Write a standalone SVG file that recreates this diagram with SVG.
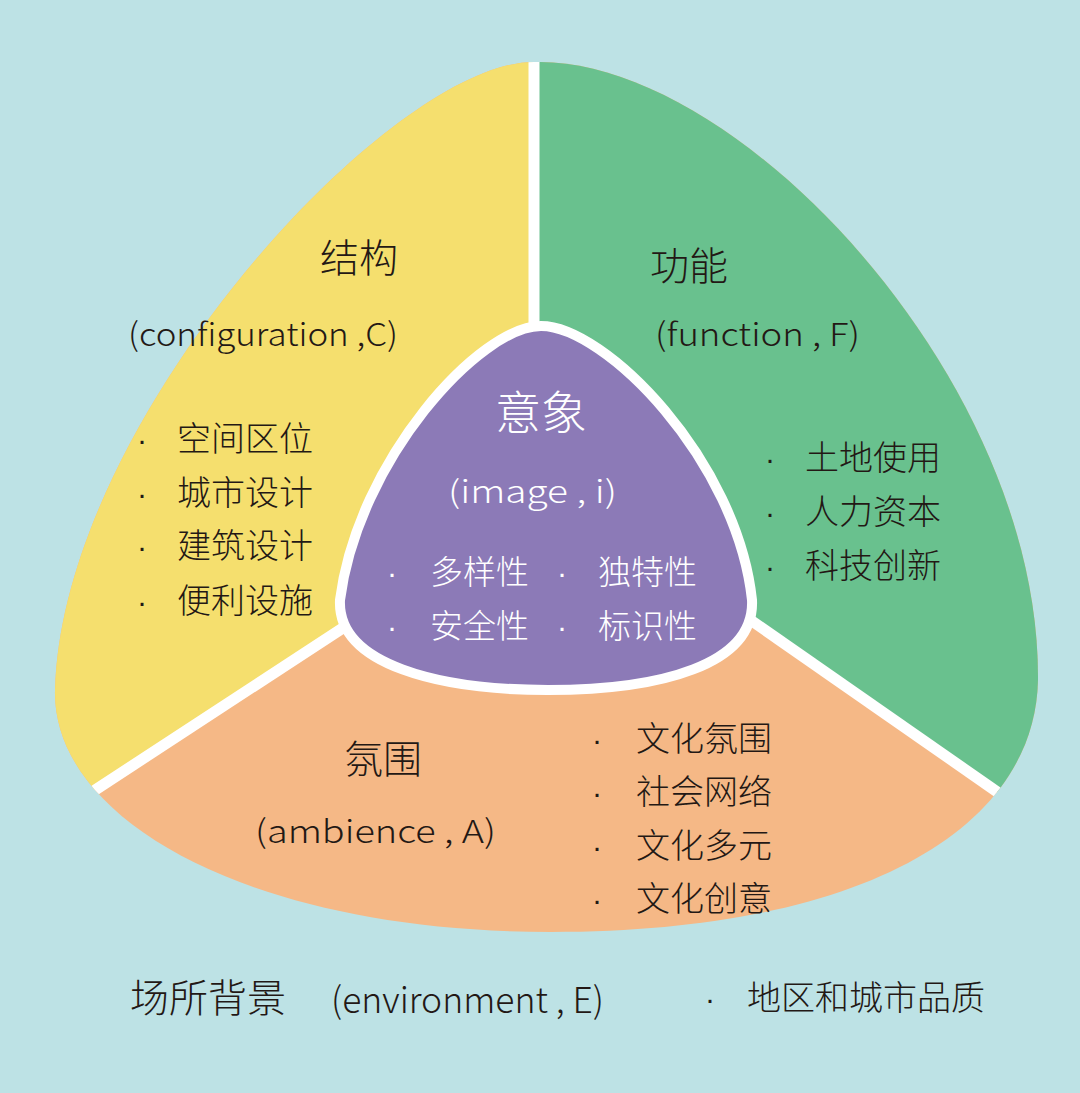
<svg xmlns="http://www.w3.org/2000/svg" width="1080" height="1093" viewBox="0 0 1080 1093">
<style>
.cjk{font-family:'Noto Sans CJK SC','Noto Sans',sans-serif;fill:#231815;font-weight:300}
.lat{font-family:'Noto Sans CJK SC','Noto Sans',sans-serif;fill:#231815;font-weight:300}
.dot{font-family:'Liberation Sans',Arial,sans-serif;fill:#231815;font-size:30px;text-anchor:middle}
.w{fill:#ffffff}
.div{stroke:#ffffff;stroke-width:11;fill:none}
</style>
<defs>
<clipPath id="outerClip">
<path d="M 534 62 C 390 62, 62 420, 55 690 C 52 820, 250 932, 551 932 C 860 932, 1035 830, 1038 680 C 1040 380, 740 62, 540 62 Z"/>
</clipPath>
</defs>
<rect x="0" y="0" width="1080" height="1093" fill="#BDE2E5"/>

<g id="sectors" clip-path="url(#outerClip)">
<rect id="ambience-fill" x="0" y="0" width="1080" height="1093" fill="#F5B886"/>
<polygon id="configuration-fill" points="534,-10 534,503 -200,983 -200,-10" fill="#F5DF6E"/>
<polygon id="function-fill" points="534,-10 1300,-10 1300,1003 534,469" fill="#69C18E"/>
</g>

<g id="connectors" clip-path="url(#outerClip)">
<line class="div" x1="534" y1="0" x2="534" y2="500"/>
<line class="div" x1="-200" y1="983" x2="534" y2="503"/>
<line class="div" x1="534" y1="469" x2="1300" y2="1003"/>
</g>

<g id="configuration">
<text class="cjk" x="320" y="272" font-size="39">结构</text>
<text class="lat" x="128" y="346" font-size="32" textLength="270" lengthAdjust="spacingAndGlyphs">(configuration ,C)</text>
<g font-size="34">
<text class="dot" x="142" y="450">·</text>
<text class="cjk" x="177" y="451">空间区位</text>
<text class="dot" x="142" y="504">·</text>
<text class="cjk" x="177" y="505">城市设计</text>
<text class="dot" x="142" y="557">·</text>
<text class="cjk" x="177" y="558">建筑设计</text>
<text class="dot" x="142" y="612">·</text>
<text class="cjk" x="177" y="613">便利设施</text>
</g>
</g>

<g id="function">
<text class="cjk" x="650" y="280" font-size="39">功能</text>
<text class="lat" x="655" y="346" font-size="32" textLength="205" lengthAdjust="spacingAndGlyphs">(function ,  F)</text>
<g font-size="34">
<text class="dot" x="770" y="469">·</text>
<text class="cjk" x="805" y="470">土地使用</text>
<text class="dot" x="770" y="523">·</text>
<text class="cjk" x="805" y="524">人力资本</text>
<text class="dot" x="770" y="577">·</text>
<text class="cjk" x="805" y="578">科技创新</text>
</g>
</g>

<g id="ambience">
<text class="cjk" x="344" y="773" font-size="39">氛围</text>
<text class="lat" x="255" y="843" font-size="32" textLength="241" lengthAdjust="spacingAndGlyphs">(ambience ,  A)</text>
<g font-size="34">
<text class="dot" x="597" y="750">·</text>
<text class="cjk" x="636" y="751">文化氛围</text>
<text class="dot" x="597" y="803">·</text>
<text class="cjk" x="636" y="804">社会网络</text>
<text class="dot" x="597" y="857">·</text>
<text class="cjk" x="636" y="858">文化多元</text>
<text class="dot" x="597" y="910">·</text>
<text class="cjk" x="636" y="911">文化创意</text>
</g>
</g>

<g id="image">
<path d="M 541 326 C 480 326, 358 460, 340 600 C 337 665, 440 690, 548 690 C 660 690, 755 665, 752 600 C 737 460, 605 326, 541 326 Z" fill="#8C7AB7" stroke="#ffffff" stroke-width="10"/>
<text class="cjk w" x="541" y="429" font-size="46" text-anchor="middle">意象</text>
<text class="lat w" x="448" y="503" font-size="31" textLength="169" lengthAdjust="spacingAndGlyphs">(image ,  i)</text>
<g font-size="33">
<text class="dot w" x="392" y="583">·</text>
<text class="cjk w" x="430" y="584">多样性</text>
<text class="dot w" x="562" y="583">·</text>
<text class="cjk w" x="598" y="584">独特性</text>
<text class="dot w" x="392" y="637">·</text>
<text class="cjk w" x="430" y="638">安全性</text>
<text class="dot w" x="562" y="637">·</text>
<text class="cjk w" x="598" y="638">标识性</text>
</g>
</g>

<g id="environment">
<text class="cjk" x="130" y="1012" font-size="39">场所背景</text>
<text class="lat" x="331" y="1013" font-size="36" textLength="273" lengthAdjust="spacingAndGlyphs">(environment ,  E)</text>
<text class="dot" x="710" y="1009">·</text>
<text class="cjk" x="747" y="1010" font-size="34">地区和城市品质</text>
</g>
</svg>
